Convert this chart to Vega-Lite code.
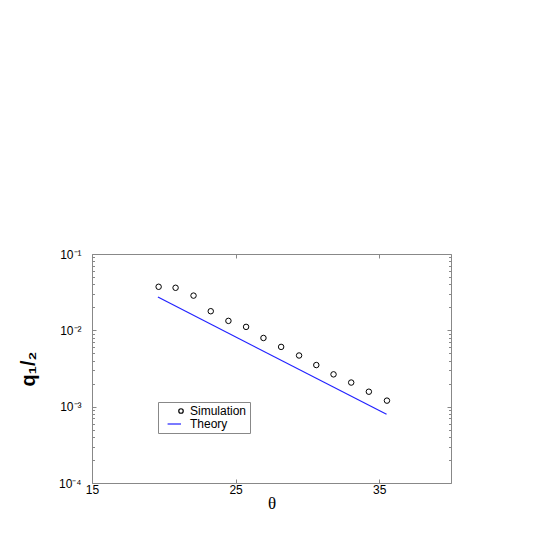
{
  "$schema": "https://vega.github.io/schema/vega-lite/v6.json",
  "width": 359,
  "height": 229,
  "autosize": {"type": "none"},
  "padding": {"left": 92, "top": 254, "right": 94, "bottom": 62},
  "background": "white",
  "config": {
    "view": {"stroke": "#888888", "strokeWidth": 1},
    "axis": {
      "grid": false,
      "domain": false,
      "tickColor": "#888888",
      "tickWidth": 1,
      "labelFont": "Liberation Sans",
      "labelFontSize": 12,
      "labelColor": "black",
      "titleColor": "black"
    }
  },
  "datasets": {
    "sim": [
      {"theta": 19.64, "q": 0.0372, "series": "Simulation"},
      {"theta": 20.82, "q": 0.0361, "series": "Simulation"},
      {"theta": 22.07, "q": 0.0285, "series": "Simulation"},
      {"theta": 23.27, "q": 0.0178, "series": "Simulation"},
      {"theta": 24.50, "q": 0.0133, "series": "Simulation"},
      {"theta": 25.73, "q": 0.0111, "series": "Simulation"},
      {"theta": 26.94, "q": 0.00794, "series": "Simulation"},
      {"theta": 28.17, "q": 0.00607, "series": "Simulation"},
      {"theta": 29.42, "q": 0.00468, "series": "Simulation"},
      {"theta": 30.62, "q": 0.00351, "series": "Simulation"},
      {"theta": 31.82, "q": 0.00265, "series": "Simulation"},
      {"theta": 33.05, "q": 0.00207, "series": "Simulation"},
      {"theta": 34.28, "q": 0.00157, "series": "Simulation"},
      {"theta": 35.54, "q": 0.00120, "series": "Simulation"}
    ],
    "theory": [
      {"theta": 19.59, "q": 0.0273, "series": "Theory"},
      {"theta": 35.51, "q": 0.000794, "series": "Theory"}
    ]
  },
  "layer": [
    {
      "data": {"name": "sim"},
      "mark": {"type": "point", "filled": false, "size": 30, "strokeWidth": 1, "opacity": 1},
      "encoding": {
        "x": {
          "field": "theta", "type": "quantitative",
          "scale": {"domain": [15, 40], "nice": false, "zero": false},
          "axis": {"orient": "bottom", "values": [15, 25, 35], "tickSize": -4, "labelPadding": 5,
                   "labelFlush": false, "labelOverlap": false,
                   "title": "θ", "titleFont": "Liberation Serif", "titleFontSize": 17, "titleFontWeight": "normal", "titlePadding": 0}
        },
        "y": {
          "field": "q", "type": "quantitative",
          "scale": {"type": "log", "domain": [0.0001, 0.1], "nice": false},
          "axis": {"orient": "left", "values": [0.0001, 0.001, 0.01, 0.1], "tickSize": -4, "labelPadding": 15,
                   "labelFlush": false, "labelOverlap": false,
                   "labelExpr": "datum.value >= 0.05 ? '10⁻¹' : datum.value >= 0.005 ? '10⁻²' : datum.value >= 0.0005 ? '10⁻³' : '10⁻⁴'",
                   "title": "q₁/₂", "titleFont": "Liberation Sans", "titleFontSize": 20, "titleFontWeight": "bold", "titlePadding": 20}
        },
        "color": {
          "field": "series", "type": "nominal",
          "scale": {"domain": ["Simulation", "Theory"], "range": ["black", "#2222ff"]},
          "legend": {"title": null, "orient": "none", "legendX": 66, "legendY": 148, "padding": 3,
                     "strokeColor": "#888888", "fillColor": "white", "symbolSize": 20, "symbolStrokeWidth": 1.2,
                     "symbolOffset": 14, "labelOffset": 3, "labelFont": "Liberation Sans", "labelFontSize": 12, "labelColor": "black",
                     "rowPadding": 1, "symbolFillColor": "transparent"}
        },
        "shape": {
          "field": "series", "type": "nominal",
          "scale": {"domain": ["Simulation", "Theory"], "range": ["circle", "M-6,0L0,0"]},
          "legend": {"title": null, "orient": "none", "legendX": 66, "legendY": 148, "padding": 3,
                     "strokeColor": "#888888", "fillColor": "white", "symbolSize": 20, "symbolStrokeWidth": 1.2,
                     "symbolOffset": 14, "labelOffset": 3, "labelFont": "Liberation Sans", "labelFontSize": 12, "labelColor": "black",
                     "rowPadding": 1, "symbolFillColor": "transparent"}
        }
      }
    },
    {
      "data": {"name": "theory"},
      "mark": {"type": "line", "strokeWidth": 1.2},
      "encoding": {
        "x": {"field": "theta", "type": "quantitative",
              "axis": {"orient": "top", "values": [15, 25, 35], "tickSize": -4, "labels": false, "title": null}},
        "y": {"field": "q", "type": "quantitative",
              "axis": {"orient": "right", "values": [0.0001, 0.001, 0.01, 0.1], "tickSize": -4, "labels": false, "title": null}},
        "color": {"field": "series", "type": "nominal"}
      }
    },
    {
      "data": {"name": "sim"},
      "mark": {"type": "point", "opacity": 0},
      "encoding": {
        "x": {"field": "theta", "type": "quantitative", "axis": null},
        "y": {"field": "q", "type": "quantitative",
              "axis": {"orient": "left", "tickSize": -2.5, "labels": false, "title": null,
                       "values": [0.0002, 0.0003, 0.0004, 0.0005, 0.0006, 0.0007, 0.0008, 0.0009,
                                  0.002, 0.003, 0.004, 0.005, 0.006, 0.007, 0.008, 0.009,
                                  0.02, 0.03, 0.04, 0.05, 0.06, 0.07, 0.08, 0.09]}}
      }
    },
    {
      "data": {"name": "sim"},
      "mark": {"type": "point", "opacity": 0},
      "encoding": {
        "x": {"field": "theta", "type": "quantitative", "axis": null},
        "y": {"field": "q", "type": "quantitative",
              "axis": {"orient": "right", "tickSize": -2.5, "labels": false, "title": null,
                       "values": [0.0002, 0.0003, 0.0004, 0.0005, 0.0006, 0.0007, 0.0008, 0.0009,
                                  0.002, 0.003, 0.004, 0.005, 0.006, 0.007, 0.008, 0.009,
                                  0.02, 0.03, 0.04, 0.05, 0.06, 0.07, 0.08, 0.09]}}
      }
    }
  ],
  "resolve": {"axis": {"x": "independent", "y": "independent"}}
}
